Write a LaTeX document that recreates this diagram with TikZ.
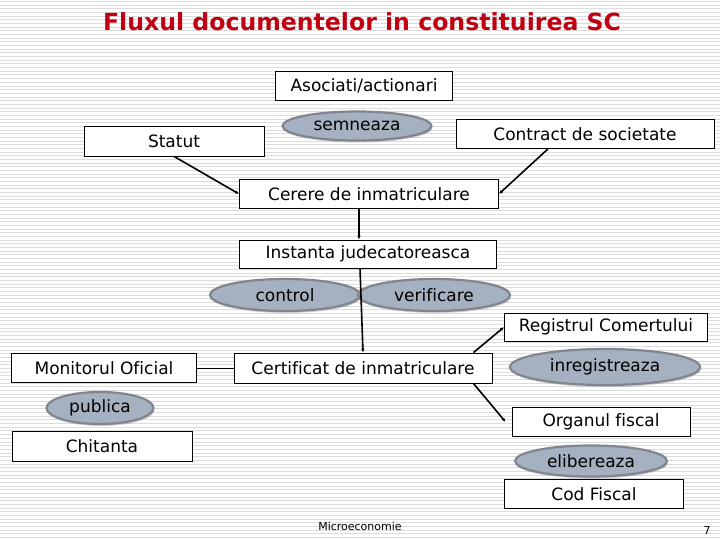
\documentclass[tikz,border=0pt]{standalone}
\usepackage{fontspec}
\setmainfont{DejaVu Sans}[Ligatures={NoCommon}]
\usetikzlibrary{shapes.geometric,arrows.meta,shadows}

\definecolor{titlered}{RGB}{192,0,16}
\definecolor{ovalfill}{RGB}{165,176,192}
\definecolor{ovalline}{RGB}{128,134,142}
\definecolor{stripegray}{RGB}{220,220,220}

\tikzset{
  box/.style={draw, fill=white, line width=0.8pt, inner sep=0pt,
    font=\fontsize{17}{20}\selectfont},
  oval/.style={ellipse, fill=ovalfill, draw=ovalline, line width=2.2pt, inner sep=0pt,
    font=\fontsize{17}{20}\selectfont,
    drop shadow={shadow xshift=1pt, shadow yshift=-2pt, opacity=0.35}},
  arr/.style={-{Latex[length=4pt,width=3.5pt]}, line width=1.6pt},
  plain/.style={line width=0.8pt}
}

\begin{document}
\begin{tikzpicture}[x=1pt,y=-1pt]
  \useasboundingbox[fill=white] (0,0) rectangle (720,540);
  \foreach \y in {1.5,5.17,...,540}
    \draw[stripegray, line width=0.8pt] (0,\y) -- (720,\y);

  \node[font=\fontsize{23.6}{28}\selectfont\bfseries, text=titlered] (title) at (362,22)
    {Fluxul documentelor in constituirea SC};

  % partea de sus
  \node[box, minimum width=177pt, minimum height=29pt] (asociati) at (364,86) {Asociati/actionari};
  \node[oval, minimum width=149pt, minimum height=29pt] (semneaza) at (357,126) {semneaza};
  \node[box, minimum width=180pt, minimum height=30pt] (statut) at (174,141) {Statut};
  \node[box, minimum width=258pt, minimum height=29pt] (contract) at (585,134) {Contract de societate};
  \node[box, minimum width=259pt, minimum height=29pt] (cerere) at (369,194) {Cerere de inmatriculare};

  % instanta
  \node[box, minimum width=257pt, minimum height=28pt] (instanta) at (368,254) {Instanta judecatoreasca};
  \node[oval, minimum width=150pt, minimum height=32pt] (control) at (285,295) {control};
  \node[oval, minimum width=152pt, minimum height=32pt] (verificare) at (434,295) {verificare};

  % certificat
  \node[box, minimum width=258pt, minimum height=30pt] (certificat) at (363,368) {Certificat de inmatriculare};
  \node[box, minimum width=203pt, minimum height=28pt] (registrul) at (606,327) {Registrul Comertului};
  \node[oval, minimum width=190pt, minimum height=36pt] (inregistreaza) at (605,367) {inregistreaza};
  \node[box, minimum width=178pt, minimum height=29pt] (organul) at (601,422) {Organul fiscal};
  \node[oval, minimum width=152pt, minimum height=31pt] (elibereaza) at (591,461) {elibereaza};
  \node[box, minimum width=179pt, minimum height=29pt] (codfiscal) at (594,494) {Cod Fiscal};

  % monitorul
  \node[box, minimum width=185pt, minimum height=29pt] (monitorul) at (104,368) {Monitorul Oficial};
  \node[oval, minimum width=107pt, minimum height=32pt] (publica) at (100,408) {publica};
  \node[box, minimum width=180pt, minimum height=30pt] (chitanta) at (102,446) {Chitanta};

  % legaturi
  \draw[arr] (statut.south) -- (cerere.west);
  \draw[arr] ([xshift=-37pt]contract.south) -- (cerere.east);
  \draw[arr] ([xshift=-10pt]cerere.south) -- ([xshift=-9pt]instanta.north);
  \draw[arr] ([xshift=-8pt]instanta.south) -- (certificat.north);
  \draw[arr] ([xshift=-19pt]certificat.north east) -- (registrul.west);
  \draw[arr] ([xshift=-19pt]certificat.south east) -- ([xshift=-6pt]organul.west);
  \draw[plain] (monitorul.east) -- (certificat.west);

  \node[font=\fontsize{11}{13}\selectfont] (subsol) at (360,526) {Microeconomie};
  \node[font=\fontsize{11}{13}\selectfont] (pagina) at (707,530) {7};
\end{tikzpicture}
\end{document}
